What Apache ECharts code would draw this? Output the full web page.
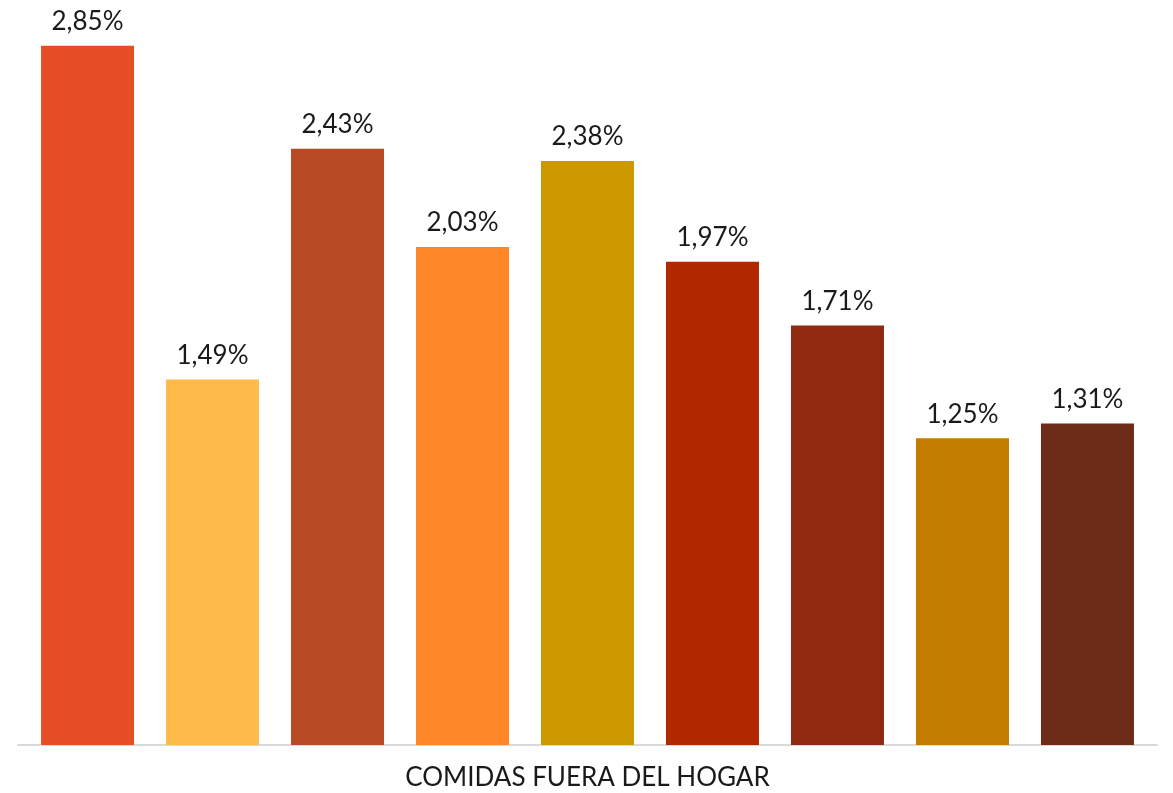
<!DOCTYPE html>
<html>
<head>
<meta charset="utf-8">
<script src="https://cdn.jsdelivr.net/npm/echarts@6/dist/echarts.min.js"></script>
<style>
  html, body { margin: 0; padding: 0; background: #fff; }
  #chart { width: 1173px; height: 793px; }
</style>
</head>
<body>
<div id="chart"></div>
<script>
// one category, nine bars (series names unknown in the picture)
var categories = ["COMIDAS FUERA DEL HOGAR"];
var values = [2.85, 1.49, 2.43, 2.03, 2.38, 1.97, 1.71, 1.25, 1.31];
var colors = ["#E84E25", "#FFBB4A", "#B84A26", "#FF8628", "#CC9900",
              "#B02700", "#902A10", "#C47D00", "#6D2B18"];

var FONT = "Lato";

function fmtPct(v) {
  return v.toFixed(2).replace(".", ",") + "%";
}

var series = [];
for (let i = 0; i < values.length; i++) {
  series.push({
    name: "s" + (i + 1),
    type: "bar",
    data: [values[i]],
    barWidth: 93,
    barGap: "34.4%",
    itemStyle: { color: colors[i] },
    label: {
      show: true,
      position: "top",
      distance: 11,
      formatter: function (p) { return fmtPct(p.value); },
      color: "#1a1a1a",
      fontFamily: FONT,
      fontSize: 26
    }
  });
}

var myChart = echarts.init(document.getElementById("chart"), null, { renderer: "canvas" });

var option = {
  animation: false,
  grid: { left: 18, right: 16, top: 9, bottom: 48, containLabel: false },
  xAxis: {
    type: "category",
    data: categories,
    axisLine: { lineStyle: { color: "#d9d9d9", width: 2 } },
    axisTick: { show: false },
    axisLabel: {
      color: "#1a1a1a",
      fontFamily: FONT,
      fontSize: 26,
      margin: 20
    }
  },
  yAxis: {
    type: "value",
    min: 0,
    max: 3,
    show: false,
    splitLine: { show: false }
  },
  series: series
};

myChart.setOption(option);
</script>
</body>
</html>
